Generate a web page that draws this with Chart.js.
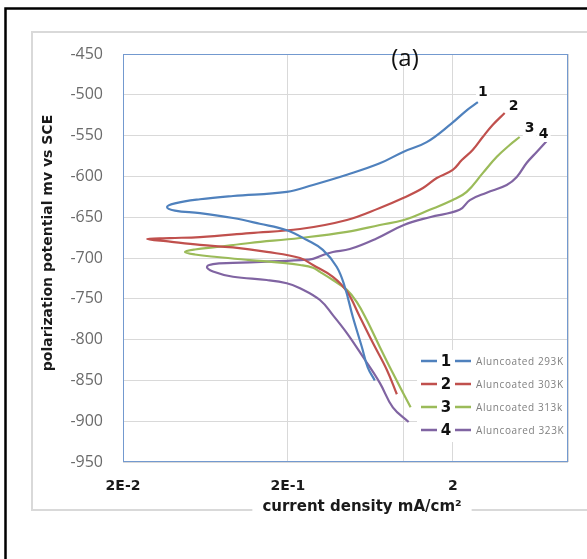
<!DOCTYPE html>
<html>
<head>
<meta charset="utf-8">
<script src="https://cdn.jsdelivr.net/npm/chart.js@4.4.1/dist/chart.umd.min.js"></script>
<style>
html,body{margin:0;padding:0;background:#fff;}
#wrap{width:587px;height:559px;}
</style>
</head>
<body>
<div id="wrap"><canvas id="c" width="587" height="559"></canvas></div>
<script>
// Tafel polarization curves of uncoated Al at four temperatures.
const seriesNames = ['Aluncoated 293K', 'Aluncoated 303K', 'Aluncoated 313k', 'Aluncoared 323K'];
const seriesTags = ['1', '2', '3', '4'];

// potential (mV vs SCE) and current density (mA/cm2), cathodic end first
const potential293 = [-850, -834, -809, -772, -735.5, -711, -690, -678, -666, -658, -651, -645, -642, -637.5, -633, -628, -624, -619, -610.5, -598, -584, -570, -558, -535, -519, -509];
const current293   = [0.673, 0.61, 0.562, 0.495, 0.443, 0.396, 0.326, 0.261, 0.197, 0.135, 0.093, 0.0586, 0.0413, 0.037, 0.0413, 0.0586, 0.093, 0.197, 0.284, 0.456, 0.722, 1.0, 1.39, 1.97, 2.43, 2.84];

const potential303 = [-867, -837, -804, -772, -741, -723, -708.6, -700, -692.5, -687, -684, -680, -676.7, -675.6, -674.3, -669.4, -664.5, -653.4, -638.7, -626.5, -614.2, -602, -592, -580, -567.6, -551.7, -537, -522.3];
const current303   = [0.916, 0.796, 0.655, 0.546, 0.456, 0.375, 0.284, 0.237, 0.149, 0.093, 0.0586, 0.0385, 0.028, 0.0385, 0.0586, 0.1177, 0.237, 0.456, 0.722, 1.0, 1.32, 1.60, 2.0, 2.27, 2.64, 3.04, 3.49, 4.13];

const potential313 = [-883, -841, -809, -776, -754, -739, -727, -717, -712, -708.6, -706, -702.5, -698.8, -695.7, -692.6, -689.6, -686.5, -681.6, -675.5, -668, -659.6, -653.4, -641, -629, -619, -596, -576, -561.5, -551.7];
const current313   = [1.11, 0.866, 0.722, 0.602, 0.524, 0.456, 0.375, 0.313, 0.284, 0.237, 0.187, 0.1177, 0.0743, 0.0546, 0.0475, 0.0546, 0.0743, 0.1177, 0.237, 0.456, 0.722, 1.01, 1.45, 2.0, 2.43, 3.04, 3.70, 4.43, 5.09];

const potential323 = [-901, -883, -853, -821, -792, -770, -751.5, -737, -731, -727, -723, -716.5, -711, -707.4, -706, -704.5, -702.5, -701, -696, -692.6, -689, -676, -659.6, -650, -641, -629, -620, -610.5, -600.7, -583.6, -570, -556.6];
const current323   = [1.08, 0.866, 0.722, 0.570, 0.456, 0.375, 0.313, 0.237, 0.197, 0.149, 0.093, 0.0703, 0.0646, 0.0703, 0.093, 0.149, 0.237, 0.284, 0.33, 0.375, 0.475, 0.69, 1.01, 1.45, 2.2, 2.54, 3.21, 4.25, 4.89, 5.61, 6.46, 7.43];

// axis ticks
const xTickValues = [0.02, 0.2, 1, 2, 10];
const xTickLabels = ['2E-2', '2E-1', '', '2', ''];
const yMin = -950, yMax = -450, yStep = 50;

// styling
const seriesColors = ['#4F81BD', '#C0504D', '#9BBB59', '#8064A2'];
const tagOffsets = [[5, -10], [9, -7], [10, -9], [-3, -7]];

const potentials = [potential293, potential303, potential313, potential323];
const currents = [current293, current303, current313, current323];

const datasets = potentials.map((E, k) => ({
  label: seriesNames[k],
  data: E.map((e, i) => ({ x: currents[k][i], y: e })),
  borderColor: seriesColors[k],
  backgroundColor: seriesColors[k],
  borderWidth: 2.2,
  showLine: true,
  tension: 0.4,
  pointRadius: 0,
  pointHoverRadius: 0,
  fill: false
}));

const decor = {
  id: 'decor',
  beforeDraw(chart) {
    const ctx = chart.ctx;
    ctx.save();
    ctx.fillStyle = '#ffffff';
    ctx.fillRect(0, 0, chart.width, chart.height);
    ctx.strokeStyle = '#000000';
    ctx.lineWidth = 2.5;
    ctx.strokeRect(5.5, 8.5, 800, 800);
    ctx.strokeStyle = '#d9d9d9';
    ctx.lineWidth = 2;
    ctx.strokeRect(32, 32, 800, 478);
    ctx.restore();
  },
  beforeDatasetsDraw(chart) {
    const { ctx, chartArea: a } = chart;
    ctx.save();
    ctx.strokeStyle = '#7399cf';
    ctx.lineWidth = 1;
    ctx.strokeRect(Math.round(a.left) + 0.5, Math.round(a.top) + 0.5,
      Math.round(a.right - a.left) - 1, Math.round(a.bottom - a.top) - 1);
    ctx.restore();
  },
  afterDatasetsDraw(chart) {
    const { ctx, chartArea: a } = chart;
    ctx.save();

    // series numbers at the anodic ends
    ctx.font = 'bold 14px "DejaVu Sans"';
    ctx.textAlign = 'center';
    ctx.textBaseline = 'middle';
    chart.data.datasets.forEach((ds, k) => {
      const meta = chart.getDatasetMeta(k);
      const p = meta.data[meta.data.length - 1];
      const x = p.x + tagOffsets[k][0];
      const y = p.y + tagOffsets[k][1];
      const w = ctx.measureText(seriesTags[k]).width;
      ctx.fillStyle = '#ffffff';
      ctx.fillRect(x - w / 2 - 2, y - 8, w + 4, 16);
      ctx.fillStyle = '#111111';
      ctx.fillText(seriesTags[k], x, y);
    });

    // legend
    const lx = 417, ly = 361, rowGap = 23;
    ctx.fillStyle = '#ffffff';
    ctx.fillRect(lx, ly - 11, a.right - lx - 1, rowGap * 4);
    chart.data.datasets.forEach((ds, k) => {
      const y = ly + k * rowGap;
      ctx.strokeStyle = seriesColors[k];
      ctx.lineWidth = 2.5;
      ctx.beginPath();
      ctx.moveTo(421, y); ctx.lineTo(437, y);
      ctx.moveTo(455, y); ctx.lineTo(471, y);
      ctx.stroke();
      ctx.fillStyle = '#111111';
      ctx.font = 'bold 15px "DejaVu Sans"';
      ctx.textAlign = 'center';
      ctx.textBaseline = 'middle';
      ctx.fillText(seriesTags[k], 446, y + 1);
      ctx.fillStyle = '#7f7f7f';
      ctx.font = '10px "Open Sans"';
      ctx.letterSpacing = '0.6px';
      ctx.textAlign = 'left';
      ctx.fillText(ds.label, 476, y + 1);
      ctx.letterSpacing = '0px';
    });

    // panel label
    ctx.fillStyle = '#111111';
    ctx.font = '24px "Open Sans"';
    ctx.textAlign = 'center';
    ctx.textBaseline = 'middle';
    ctx.fillText('(a)', 405, 59);

    // axis titles
    ctx.font = 'bold 15px "DejaVu Sans"';
    const xt = 'current density mA/cm\u00B2';
    const xw = ctx.measureText(xt).width;
    ctx.fillStyle = '#ffffff';
    ctx.fillRect(362 - xw / 2 - 10, 500, xw + 20, 16);
    ctx.fillStyle = '#1a1a1a';
    ctx.fillText(xt, 362, 507);

    ctx.translate(48, 243);
    ctx.rotate(-Math.PI / 2);
    ctx.font = 'bold 14px "DejaVu Sans"';
    ctx.fillText('polarization potential mv vs SCE', 0, 0);
    ctx.restore();
  }
};

new Chart(document.getElementById('c'), {
  type: 'scatter',
  data: { datasets },
  options: {
    responsive: false,
    animation: false,
    events: [],
    layout: { padding: { top: 54, right: 19, bottom: 0, left: 0 } },
    plugins: { legend: { display: false }, title: { display: false }, tooltip: { enabled: false } },
    scales: {
      x: {
        type: 'logarithmic',
        min: xTickValues[0],
        max: xTickValues[xTickValues.length - 1],
        afterBuildTicks(s) { s.ticks = xTickValues.map(v => ({ value: v })); },
        afterFit(s) { s.height = 97; },
        grid: { color: '#d9d9d9', lineWidth: 1, drawTicks: false },
        border: { display: false },
        ticks: {
          autoSkip: false, maxRotation: 0, minRotation: 0, padding: 16,
          color: '#1a1a1a',
          font: { family: 'DejaVu Sans', weight: 'bold', size: 14 },
          callback: (v, i) => xTickLabels[i]
        }
      },
      y: {
        min: yMin, max: yMax,
        afterFit(s) { s.width = 123; },
        grid: { color: '#d9d9d9', lineWidth: 1, drawTicks: false },
        border: { display: false },
        ticks: {
          stepSize: yStep, padding: 20,
          color: '#6b6b6b',
          font: { family: 'Open Sans', size: 16 }
        }
      }
    }
  },
  plugins: [decor]
});
</script>
</body>
</html>
